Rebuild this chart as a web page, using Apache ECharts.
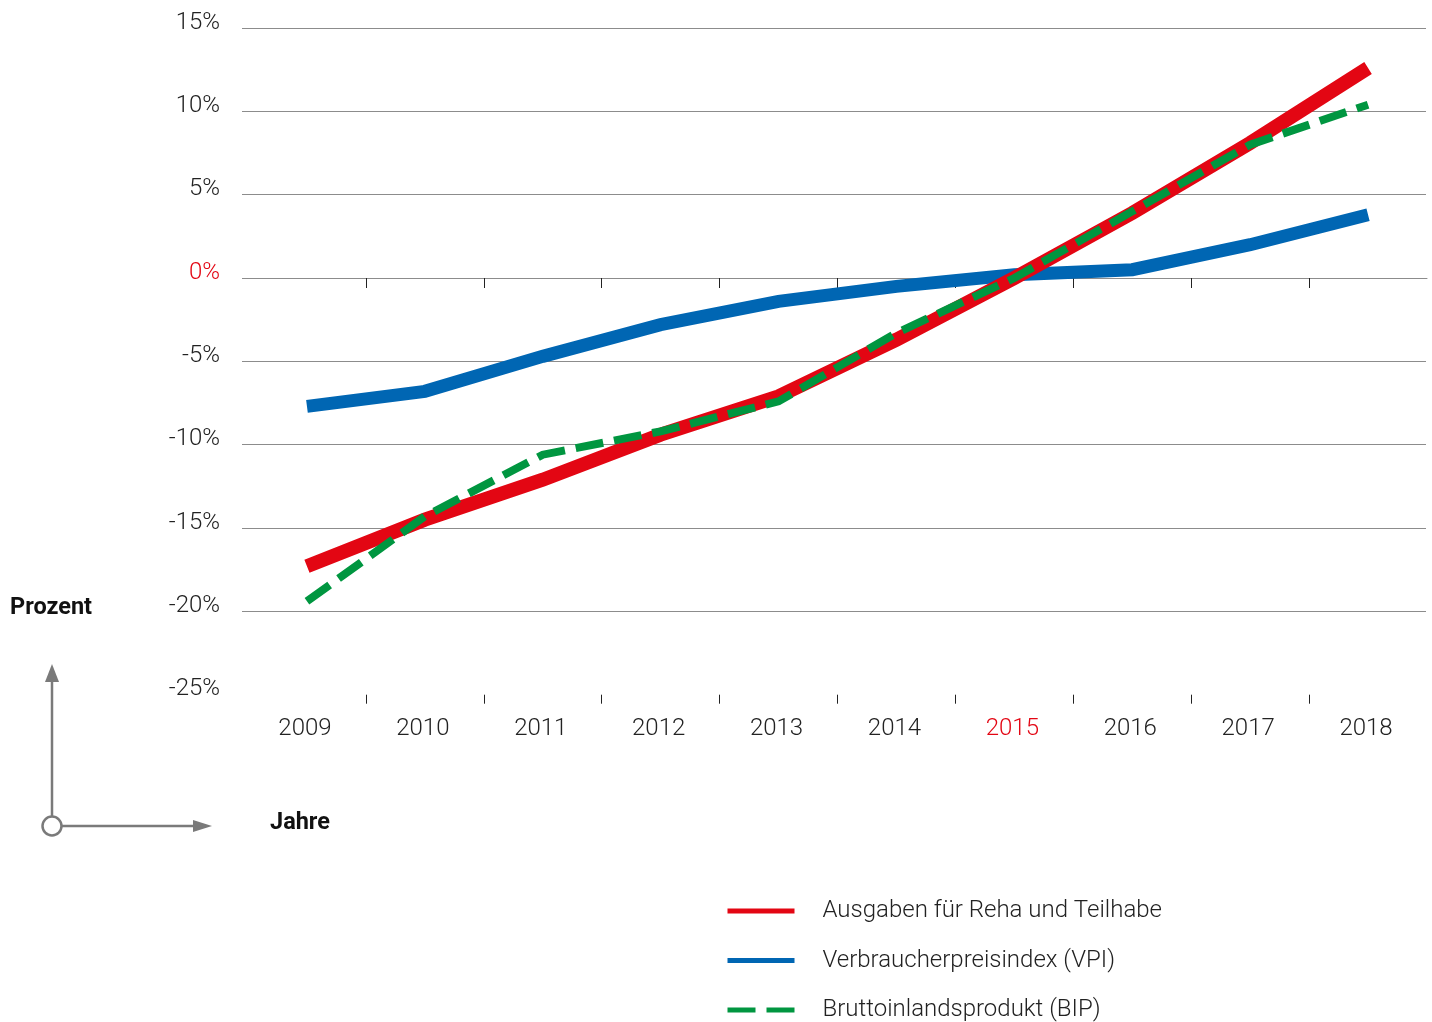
<!DOCTYPE html>
<html>
<head>
<meta charset="utf-8">
<script src="https://cdn.jsdelivr.net/npm/echarts@6/dist/echarts.min.js"></script>
<style>
  html, body { margin: 0; padding: 0; background: #fff; }
  #chart { width: 1432px; height: 1022px; }
</style>
</head>
<body>
<div id="chart"></div>
<script>
var years = ['2009', '2010', '2011', '2012', '2013', '2014', '2015', '2016', '2017', '2018'];
var rehaValues = [-17.3, -14.5, -12.1, -9.4, -7.1, -3.7, 0.0, 3.9, 8.1, 12.6];
var vpiValues = [-7.7, -6.8, -4.7, -2.8, -1.4, -0.5, 0.2, 0.5, 2.0, 3.8];
var bipValues = [-19.4, -14.3, -10.6, -9.2, -7.4, -3.3, 0.0, 4.0, 8.0, 10.4];
var seriesNames = ['Ausgaben für Reha und Teilhabe', 'Verbraucherpreisindex (VPI)', 'Bruttoinlandsprodukt (BIP)'];

var FONT = 'Roboto, "Noto Sans", sans-serif';
var TEXT = '#222';
var RED = '#e30613';
var BLUE = '#0066b3';
var GREEN = '#009640';
var GREY = '#7a7a7a';

function pairs(vals) {
	var out = [];
	for (var i = 0; i < vals.length; i++) out.push([i, vals[i]]);
	return out;
}

var yearIdx = [];
var boundaries = [];
for (var i = 0; i < years.length; i++) {
	yearIdx.push(i);
	if (i > 0) boundaries.push(i - 0.5);
}

var myChart = echarts.init(document.getElementById('chart'), null, { renderer: 'canvas' });

var option = {
	animation: false,
	backgroundColor: '#fff',
	textStyle: { fontFamily: FONT },
	grid: [
		// grid 0: only gridlines + y labels (lines start a little left of the plot)
		{ left: 242, right: 6, top: 28, bottom: 327.3 },
		// grid 1: the plot itself
		{ left: 248, right: 5, top: 28, bottom: 327.3 }
	],
	xAxis: [
		{ gridIndex: 0, type: 'value', show: false, min: 0, max: 1 },
		{
			gridIndex: 1, type: 'value', min: -0.5, max: 9.5, position: 'top',
			axisLine: { show: true, onZero: true, lineStyle: { color: '#8c8c8c', width: 1 } },
			axisTick: { show: true, inside: true, length: 10, customValues: boundaries, lineStyle: { color: '#222', width: 1 } },
			axisLabel: { show: false },
			splitLine: { show: false }
		},
		{
			gridIndex: 1, type: 'value', min: -0.5, max: 9.5, position: 'bottom',
			axisLine: { show: false, onZero: false },
			axisTick: { show: true, length: 9, customValues: boundaries, lineStyle: { color: '#222', width: 1 } },
			axisLabel: {
				show: true, margin: 22, customValues: yearIdx,
				fontSize: 24, fontWeight: 300, fontFamily: FONT,
				padding: [0, 4, 0, 0],
				formatter: function (v) { return years[Math.round(v)]; },
				color: function (v) { return years[Math.round(v)] === '2015' ? RED : TEXT; }
			},
			splitLine: { show: false }
		}
	],
	yAxis: [
		{
			gridIndex: 0, type: 'value', min: -25, max: 15, interval: 5,
			axisLine: { show: false },
			axisTick: { show: false },
			axisLabel: {
				margin: 22, fontSize: 24, fontWeight: 300, fontFamily: FONT,
				verticalAlign: 'bottom', lineHeight: 11,
				formatter: function (v) { return v + '%'; },
				color: function (v) { return v == 0 ? RED : TEXT; }
			},
			splitLine: { show: true, showMinLine: false, lineStyle: { color: '#8c8c8c', width: 1 } }
		},
		{ gridIndex: 1, type: 'value', min: -25, max: 15, interval: 5, show: false, splitLine: { show: false } }
	],
	legend: {
		orient: 'vertical',
		left: 725, top: 899,
		padding: 0,
		itemWidth: 67, itemHeight: 24, itemGap: 25.5,
		selectedMode: false,
		data: seriesNames,
		itemStyle: { opacity: 0 },
		lineStyle: { width: 5 },
		textStyle: { fontSize: 24, fontWeight: 300, color: TEXT, fontFamily: FONT, lineHeight: 24, padding: [0, 0, 0, 23] }
	},
	series: [
		{
			name: seriesNames[1], type: 'line', xAxisIndex: 1, yAxisIndex: 1,
			data: pairs(vpiValues), symbol: 'none', silent: true, z: 2,
			lineStyle: { color: BLUE, width: 13, cap: 'butt', join: 'miter' },
			itemStyle: { color: BLUE }
		},
		{
			name: seriesNames[0], type: 'line', xAxisIndex: 1, yAxisIndex: 1,
			data: pairs(rehaValues), symbol: 'none', silent: true, z: 3,
			lineStyle: { color: RED, width: 14, cap: 'butt', join: 'miter' },
			itemStyle: { color: RED }
		},
		{
			name: seriesNames[2], type: 'line', xAxisIndex: 1, yAxisIndex: 1,
			data: pairs(bipValues), symbol: 'none', silent: true, z: 4,
			lineStyle: { color: GREEN, width: 8, type: [28, 11], cap: 'butt', join: 'miter' },
			itemStyle: { color: GREEN }
		}
	],
	graphic: [
		{ type: 'text', left: 10, top: 596, style: { text: 'Prozent', font: 'bold 23.5px ' + FONT, fill: '#111' } },
		{ type: 'text', left: 270, top: 811, style: { text: 'Jahre', font: 'bold 23.5px ' + FONT, fill: '#111' } },
		{ type: 'line', shape: { x1: 52, y1: 816, x2: 52, y2: 680 }, style: { stroke: GREY, lineWidth: 2.5 } },
		{ type: 'polygon', shape: { points: [[52, 664], [45, 682], [59, 682]] }, style: { fill: GREY } },
		{ type: 'line', shape: { x1: 62, y1: 826, x2: 195, y2: 826 }, style: { stroke: GREY, lineWidth: 2.5 } },
		{ type: 'polygon', shape: { points: [[212, 826], [193, 820], [193, 832]] }, style: { fill: GREY } },
		{ type: 'circle', shape: { cx: 52, cy: 826, r: 9.5 }, style: { fill: '#fff', stroke: GREY, lineWidth: 2.5 } }
	]
};

myChart.setOption(option);
window.addEventListener('resize', myChart.resize);
</script>
</body>
</html>
